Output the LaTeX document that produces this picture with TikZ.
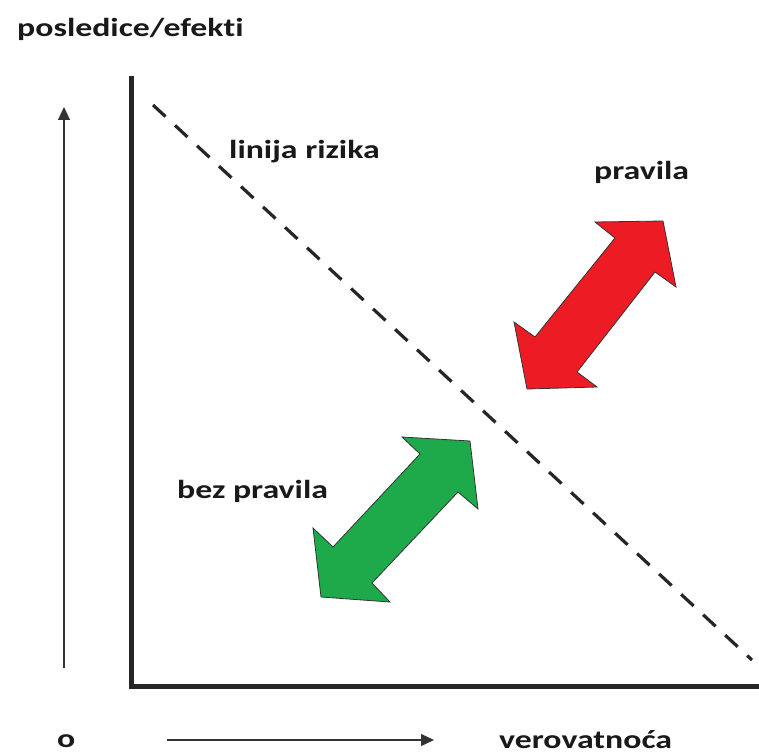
\documentclass[tikz,border=0pt]{standalone}
\usepackage{fontspec}
\setmainfont{Carlito}[FakeStretch=1.3, Ligatures=NoCommon]
\usetikzlibrary{arrows.meta}
\begin{document}
\begin{tikzpicture}[x=1pt,y=-1pt,
  lbl/.style={font=\bfseries\fontsize{26}{30}\selectfont, inner sep=0pt, text=black!90, anchor=base west},
  axisline/.style={line width=5pt, draw=black!85},
  thinarrow/.style={line width=1.2pt, -{Triangle[length=13pt,width=12pt]}, draw=black!80},
  bigarrow/.style={draw=black!80, line width=0.8pt, line join=miter}]
\useasboundingbox (0,0) rectangle (759,754);
\fill[white] (0,0) rectangle (759,754);
% axes
\coordinate (top) at (131,76);
\coordinate (origin) at (131,686);
\coordinate (right) at (759,686);
\draw[axisline] (top) -- (origin) -- (right);
% risk line
\coordinate (r1) at (153,105);
\coordinate (r2) at (752,660);
\draw[line width=3.2pt, dash pattern=on 17pt off 13pt, draw=black!85] (r1) -- (r2);
% thin axis arrows
\coordinate (ya) at (64,668);
\coordinate (yb) at (64,107);
\draw[thinarrow] (ya) -- (yb);
\coordinate (xa) at (167,740);
\coordinate (xb) at (434,740);
\draw[thinarrow] (xa) -- (xb);
% red arrow
\filldraw[bigarrow, fill={rgb,255:red,237;green,28;blue,36}]
  (663,221) -- (676,287) -- (655,272) -- (577,372) -- (597,387) -- (527,389)
  -- (514,322) -- (535,337) -- (615,238) -- (595,222) -- cycle;
% green arrow
\filldraw[bigarrow, fill={rgb,255:red,30;green,170;blue,75}]
  (470,441) -- (478,509) -- (458,492) -- (372,583) -- (390,602) -- (321,597)
  -- (313,528) -- (333,547) -- (420,454) -- (402,437) -- cycle;
% labels
\node[lbl] (ylabel) at (17,37) {posledice/efekti};
\node[lbl] (risk) at (229,158) {linija rizika};
\node[lbl] (rules) at (594,179) {pravila};
\node[lbl] (norules) at (177,498) {bez pravila};
\node[lbl] (zero) at (57,747) {o};
\node[lbl] (xlabel) at (499,748) {verovatnoća};
\end{tikzpicture}
\end{document}
